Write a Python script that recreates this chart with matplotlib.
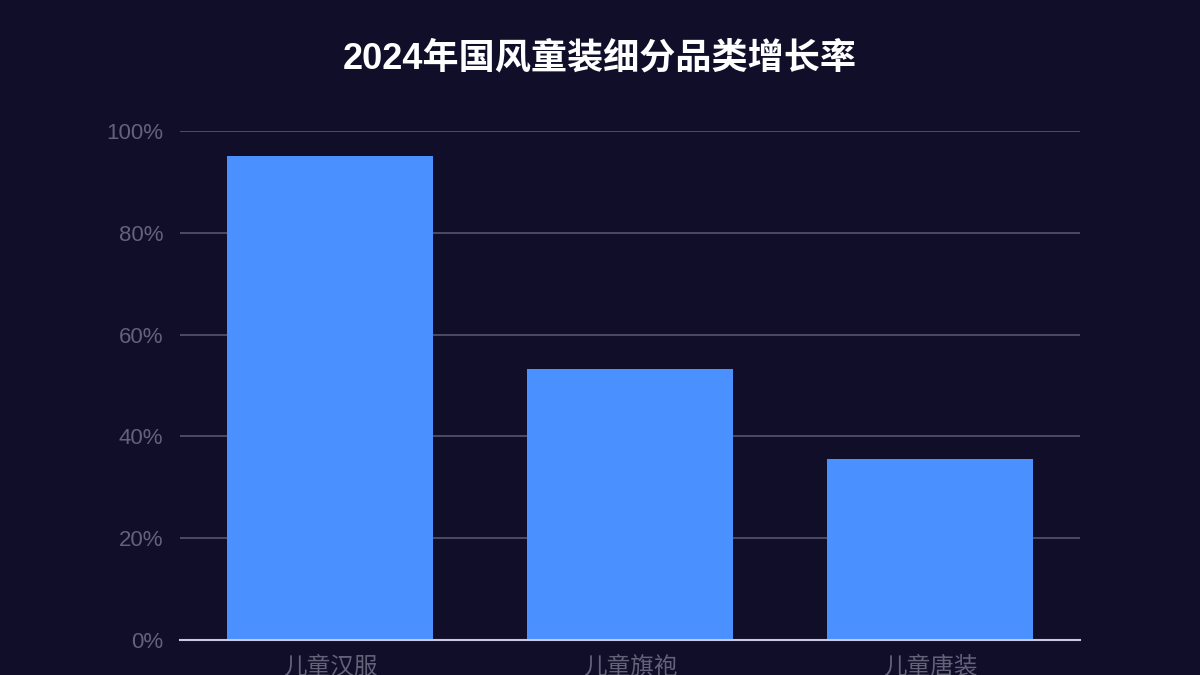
import matplotlib
matplotlib.use('Agg')
import matplotlib.pyplot as plt
from matplotlib.ticker import FuncFormatter

plt.rcParams['font.family'] = ['Liberation Sans', 'Noto Sans CJK SC', 'DejaVu Sans']

categories = ['儿童汉服', '儿童旗袍', '儿童唐装']
growth = [95, 53.3, 35.5]
yticks = [0, 20, 40, 60, 80, 100]

bg = '#110e2a'
fig = plt.figure(figsize=(12, 6.75), dpi=100, facecolor=bg)
ax = fig.add_axes([0.15, 0.0519, 0.75, 0.7541])
ax.set_facecolor(bg)

x = range(len(categories))
ax.bar(x, growth, width=0.687, color='#4a90ff', zorder=3)

ax.set_xlim(-0.5, 2.5)
ax.set_ylim(0, 100)
ax.set_yticks(yticks)
ax.yaxis.set_major_formatter(FuncFormatter(lambda v, p: f'{v:.0f}%'))
ax.set_xticks(list(x))
ax.set_xticklabels(categories)

ax.grid(axis='y', color='#56566c', linewidth=1.2, zorder=0)
for s in ['top', 'right', 'left']:
    ax.spines[s].set_visible(False)
ax.spines['bottom'].set_color('#c8c8e0')
ax.spines['bottom'].set_linewidth(1.5)
ax.spines['bottom'].set_zorder(4)

ax.tick_params(axis='y', length=0, pad=12, labelsize=16, labelcolor='#626278')
ax.tick_params(axis='x', length=0, pad=12, labelsize=17, labelcolor='#626278')

fig.text(0.5, 0.912, '2024年国风童装细分品类增长率', ha='center', va='center',
         color='white', fontsize=26, fontweight='bold')

fig.savefig('out.png', dpi=100, facecolor=bg)
